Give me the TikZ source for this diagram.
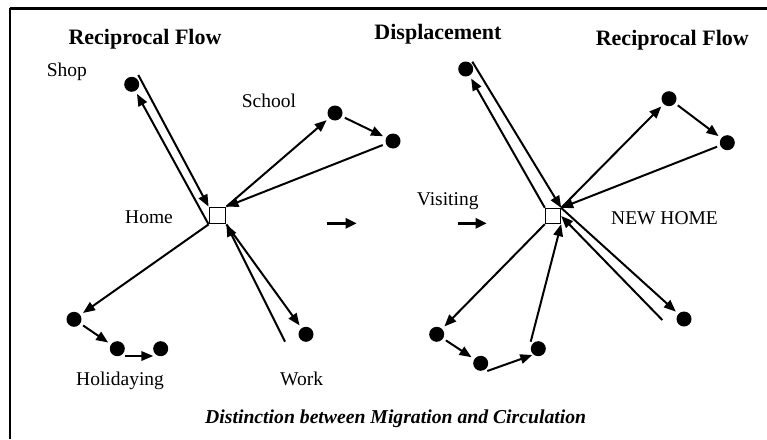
\documentclass[tikz,border=0pt]{standalone}
\usepackage{fontspec}
\setmainfont{Liberation Serif}
\usetikzlibrary{arrows.meta}
\begin{document}
\begin{tikzpicture}[x=1pt,y=-1pt,
  dot/.style={circle,fill=black,inner sep=0pt,minimum size=15pt,outer sep=3.5pt},
  homebox/.style={draw=black,line width=1.3pt,fill=white,inner sep=0pt,minimum size=#1},
  flow/.style={line width=2pt,-{Triangle[length=12pt,width=9.5pt]}},
  bigarrow/.style={line width=2.8pt,-{Triangle[length=11pt,width=10pt]}},
  frameline/.style={line width=2pt},
  lbl/.style={font=\fontsize{19.5}{22}\selectfont,anchor=base west,inner sep=0pt},
  ttl/.style={font=\fontsize{22}{25}\selectfont\bfseries,anchor=base,inner sep=0pt},
  captext/.style={font=\fontsize{19.7}{23}\selectfont\bfseries\itshape,anchor=base west,inner sep=0pt}
]
\useasboundingbox (0,0) rectangle (767,439);
\fill[white] (0,0) rectangle (767,439);

% frame
\coordinate (fr1) at (9.5,439);
\coordinate (fr2) at (9.5,8.3);
\coordinate (fr3) at (767,8.3);
\draw[frameline,line width=2.5pt] (fr2) -- (fr3);
\draw[frameline] (fr1) -- (fr2);

% titles
\node[ttl] (t1) at (145,44) {Reciprocal Flow};
\node[ttl] (t2) at (438,39.5) {Displacement};
\node[ttl] (t3) at (672.3,45) {Reciprocal Flow};

% ---------- left panel ----------
\node[homebox=16.5pt] (home) at (217.5,215.5) {};
\node[dot] (shop) at (131.7,84.3) {};
\node[dot] (school) at (335,113) {};
\node[dot] (sch2) at (393,141) {};
\node[dot] (hol1) at (74,319.3) {};
\node[dot] (hol2) at (117.3,348.7) {};
\node[dot] (hol3) at (160.7,348.7) {};
\node[dot] (work) at (306,334.3) {};

\coordinate (shopf) at (138.3,75);
\coordinate (workf) at (285,341.7);

\draw[flow] (home.south west) -- (shop);
\draw[flow] (shopf) -- (home.north west);
\draw[flow] (home.north east) -- (school);
\draw[flow] (school) -- (sch2);
\draw[flow] (sch2) -- (home.north east);
\draw[flow] (home.south west) -- (hol1);
\draw[flow] (hol1) -- (hol2);
\draw[flow] ([xshift=7.7pt,yshift=-7.3pt]hol2.center) -- ([xshift=-7.4pt,yshift=-7.3pt]hol3.center);
\draw[flow] (home.south east) -- (work);
\draw[flow] (workf) -- (home.south east);

\node[lbl] (lshop) at (46.7,76) {Shop};
\node[lbl] (lschool) at (241.7,107.3) {School};
\node[lbl] (lhome) at (125,223) {Home};
\node[lbl] (lhol) at (76,385.7) {Holidaying};
\node[lbl] (lwork) at (280,385.7) {Work};

% ---------- middle ----------
\coordinate (m1a) at (326.7,223.3);
\coordinate (m1b) at (356.7,223.3);
\coordinate (m2a) at (458.3,223.3);
\coordinate (m2b) at (486.7,223.3);
\draw[bigarrow] (m1a) -- (m1b);
\draw[bigarrow] (m2a) -- (m2b);
\node[lbl] (lvis) at (416.7,205) {Visiting};

% ---------- right panel ----------
\node[homebox=15pt] (nh) at (553,216) {};
\node[dot] (top) at (465.7,69) {};
\node[dot] (r1) at (669,98.7) {};
\node[dot] (r2) at (727.3,142.7) {};
\node[dot] (b1) at (436.7,334.3) {};
\node[dot] (b2) at (480.7,363.3) {};
\node[dot] (b3) at (538.3,348.7) {};
\node[dot] (lr) at (684,319) {};

\coordinate (topf) at (472.3,61.7);
\coordinate (lrf) at (662.3,320);

\draw[flow] (nh.north west) -- (top);
\draw[flow] (topf) -- (nh.north east);
\draw[flow] (nh.north east) -- (r1);
\draw[flow] (r1) -- (r2);
\draw[flow] (r2) -- (nh.north east);
\draw[flow] (nh.south west) -- (b1);
\draw[flow] (b1) -- (b2);
\draw[flow] ([xshift=6.6pt,yshift=-7.7pt]b2.center) -- ([xshift=-6pt,yshift=-6.3pt]b3.center);
\draw[flow] ([xshift=-7.6pt,yshift=7pt]b3.center) -- (nh.south east);
\draw[flow] (nh.north east) -- (lr);
\draw[flow] (lrf) -- (nh.east);

\node[lbl] (lnh) at (611,224) {NEW HOME};

% caption
\node[captext] (caption) at (205,423.3) {Distinction between Migration and Circulation};
\end{tikzpicture}
\end{document}
